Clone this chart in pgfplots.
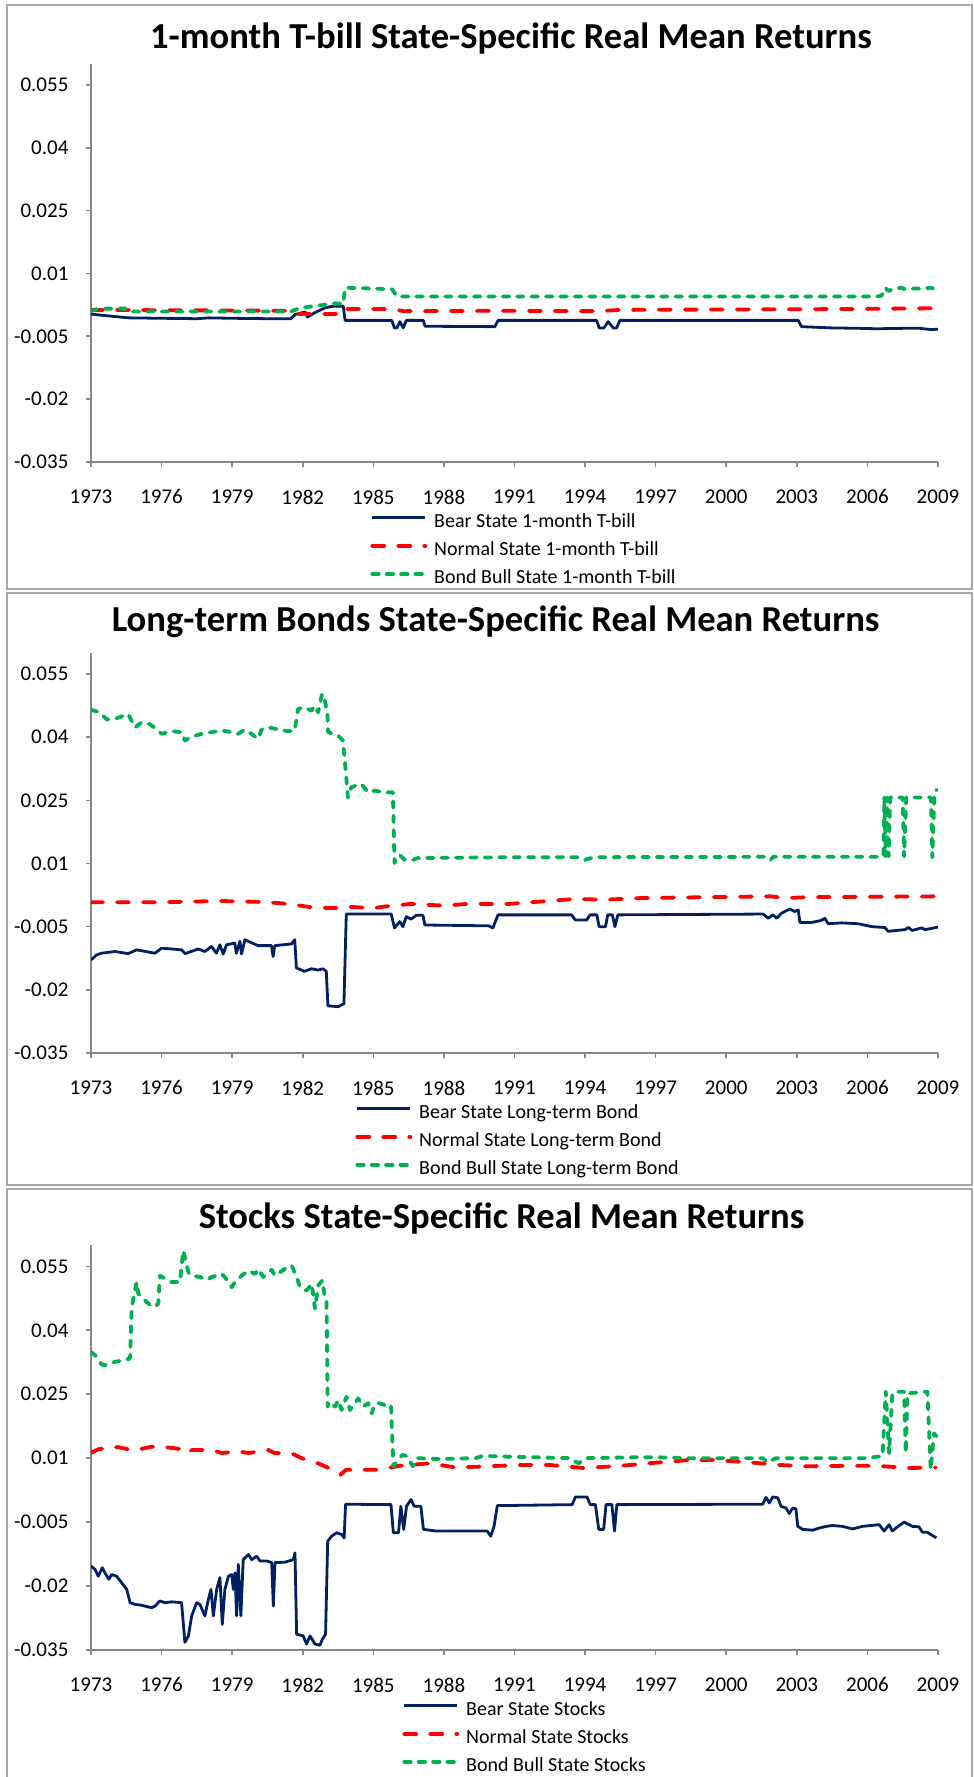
\documentclass[border=0pt]{standalone}
\usepackage{fontspec}
\setmainfont{Carlito}
\usepackage{pgfplots}
\pgfplotsset{compat=1.18}

\definecolor{bearblue}{RGB}{0,32,96}
\definecolor{normred}{RGB}{255,0,0}
\definecolor{bullgreen}{RGB}{0,176,80}
\definecolor{axisgray}{RGB}{134,134,134}
\definecolor{framegray}{RGB}{165,165,165}

\pgfplotsset{
  panel/.style={
    scale only axis, width=423.5pt,
    xmin=1973, xmax=2009, ymin=-0.035, ymax=0.06,
    axis lines*=left,
    axis line style={axisgray, line width=0.8pt},
    scaled y ticks=false, scaled x ticks=false,
    xtick={1973,1976,...,2009},
    xticklabels={1973,1976,1979,1982,1985,1988,1991,1994,1997,2000,2003,2006,2009},
    ytick={-0.035,-0.02,-0.005,0.01,0.025,0.04,0.055},
    yticklabels={-0.035,-0.02,-0.005,0.01,0.025,0.04,0.055},
    tick align=outside, major tick length=2.5pt,
    tick style={axisgray, line width=0.8pt},
    ticklabel style={font=\fontsize{10.5}{12}\selectfont},
    xticklabel style={anchor=north, inner sep=0pt, yshift=-11.2pt},
    yticklabel style={anchor=east, inner sep=0pt, xshift=-8.6pt},
    legend style={draw=none, fill=none, anchor=north west, yshift=-25.5pt,
      inner sep=0pt, font=\fontsize{10}{12}\selectfont,
      nodes={inner sep=0pt, text height=7pt, text depth=2.5pt},
      row sep=4.5pt,
      /tikz/every odd column/.append style={column sep=3.5pt}},
    legend cell align=left,
    legend image code/.code={\draw[#1] (0pt,2.5pt) -- (26.5pt,2.5pt);},
  },
  bear/.style={bearblue, line width=1.4pt, line join=round},
  normal/.style={normred, line width=1.9pt, line cap=round, line join=round, dash pattern=on 6pt off 7pt},
  bull/.style={bullgreen, line width=1.9pt, line cap=round, line join=round, dash pattern=on 3.2pt off 4pt},
}

\begin{document}
\begin{tikzpicture}
\useasboundingbox (0pt,0pt) rectangle (487pt,888.5pt);
\draw[framegray, line width=1pt] (3.5pt,886pt) rectangle (486pt,594pt);
\draw[framegray, line width=1pt] (3.5pt,592pt) rectangle (486pt,296pt);
\draw[framegray, line width=1pt] (3.5pt,294pt) rectangle (486pt,-2pt);

\node[font=\fontsize{18.3}{21}\selectfont\bfseries] at (255.5pt,869pt) {1-month T-bill State-Specific Real Mean Returns};
\node[font=\fontsize{18.3}{21}\selectfont\bfseries] at (247.8pt,577.5pt) {Long-term Bonds State-Specific Real Mean Returns};
\node[font=\fontsize{18.3}{21}\selectfont\bfseries] at (250.8pt,279pt) {Stocks State-Specific Real Mean Returns};

% ---------- 1-month T-bill ----------
\begin{axis}[panel, at={(45.5pt,657.5pt)}, anchor=south west, height=199pt,
  legend style={at={(0.3294,0)}}]
\addplot[bear] table {
1973.00 0.0003
1973.50 0.0000
1974.60 -0.0006
1976.00 -0.0007
1977.50 -0.0008
1978.00 -0.0006
1979.00 -0.0007
1980.50 -0.0008
1981.50 -0.0008
1981.67 0.0002
1982.10 0.0008
1982.20 -0.0004
1982.50 0.0006
1982.95 0.0018
1983.30 0.0022
1983.72 0.0022
1983.80 -0.0012
1985.78 -0.0012
1985.90 -0.0030
1986.00 -0.0030
1986.13 -0.0015
1986.27 -0.0030
1986.40 -0.0012
1987.12 -0.0012
1987.20 -0.0026
1990.17 -0.0027
1990.30 -0.0012
1994.49 -0.0012
1994.60 -0.0030
1994.80 -0.0030
1994.98 -0.0015
1995.20 -0.0030
1995.34 -0.0030
1995.48 -0.0012
2003.06 -0.0012
2003.20 -0.0027
2004.50 -0.0030
2005.68 -0.0031
2006.40 -0.0032
2007.50 -0.0031
2008.23 -0.0031
2008.70 -0.0034
2009.00 -0.0033
};
\addlegendentry{Bear State 1-month T-bill}
\addplot[normal] table {
1973.00 0.0013
1981.50 0.0011
1981.80 0.0003
1983.50 0.0003
1983.75 0.0003
1983.85 0.0015
1985.80 0.0015
1986.30 0.0010
1990.00 0.0011
1994.50 0.0010
1995.50 0.0013
2000.00 0.0014
2005.00 0.0015
2009.00 0.0017
};
\addlegendentry{Normal State 1-month T-bill}
\addplot[bull] table {
1973.00 0.0010
1973.30 0.0016
1974.50 0.0016
1974.70 0.0009
1981.50 0.0009
1981.80 0.0016
1982.20 0.0020
1982.90 0.0025
1983.30 0.0028
1983.72 0.0028
1983.80 0.0066
1985.00 0.0064
1985.80 0.0062
1986.00 0.0045
2006.40 0.0045
2006.60 0.0047
2006.75 0.0066
2006.90 0.0058
2007.10 0.0064
2007.45 0.0066
2007.60 0.0062
2007.80 0.0064
2008.20 0.0064
2008.73 0.0066
2008.85 0.0060
2009.00 0.0052
};
\addlegendentry{Bond Bull State 1-month T-bill}
\end{axis}

% ---------- Long-term Bonds ----------
\begin{axis}[panel, at={(45.5pt,362pt)}, anchor=south west, height=200pt,
  legend style={at={(0.3117,0)}}]
\addplot[bear] table {
1973.00 -0.0129
1973.24 -0.0117
1973.45 -0.0113
1974.02 -0.0109
1974.58 -0.0114
1974.94 -0.0105
1975.72 -0.0113
1976.00 -0.0101
1976.85 -0.0105
1977.00 -0.0114
1977.56 -0.0103
1977.84 -0.0109
1978.12 -0.0097
1978.33 -0.0113
1978.48 -0.0093
1978.62 -0.0115
1978.76 -0.0093
1979.11 -0.0089
1979.18 -0.0113
1979.33 -0.0085
1979.40 -0.0115
1979.54 -0.0081
1980.10 -0.0095
1980.67 -0.0095
1980.74 -0.0121
1980.81 -0.0095
1981.52 -0.0091
1981.66 -0.0081
1981.73 -0.0148
1982.07 -0.0156
1982.37 -0.0150
1982.65 -0.0153
1982.86 -0.0150
1983.00 -0.0156
1983.07 -0.0238
1983.50 -0.0240
1983.75 -0.0233
1983.85 -0.0020
1985.76 -0.0020
1985.90 -0.0053
1986.12 -0.0038
1986.26 -0.0050
1986.40 -0.0026
1986.61 -0.0032
1986.82 -0.0023
1987.11 -0.0023
1987.19 -0.0046
1989.90 -0.0048
1990.08 -0.0053
1990.30 -0.0022
1993.43 -0.0022
1993.58 -0.0034
1994.07 -0.0034
1994.21 -0.0022
1994.50 -0.0022
1994.60 -0.0050
1994.87 -0.0050
1994.96 -0.0022
1995.16 -0.0022
1995.27 -0.0050
1995.39 -0.0022
2001.57 -0.0020
2001.78 -0.0030
2001.99 -0.0022
2002.14 -0.0030
2002.35 -0.0018
2002.70 -0.0008
2002.91 -0.0014
2003.06 -0.0010
2003.13 -0.0040
2003.63 -0.0040
2004.05 -0.0035
2004.19 -0.0030
2004.33 -0.0043
2004.90 -0.0041
2005.60 -0.0043
2006.20 -0.0050
2006.74 -0.0052
2006.88 -0.0061
2007.60 -0.0057
2007.75 -0.0052
2007.90 -0.0059
2008.30 -0.0053
2008.45 -0.0057
2009.00 -0.0051
};
\addlegendentry{Bear State Long-term Bond}
\addplot[normal] table {
1973.00 0.0008
1976.00 0.0008
1978.50 0.0011
1980.10 0.0009
1981.00 0.0006
1981.50 0.0003
1982.50 -0.0005
1983.60 -0.0006
1984.00 -0.0003
1985.00 -0.0006
1985.50 -0.0002
1986.60 0.0004
1988.00 0.0000
1989.00 0.0004
1990.75 0.0004
1992.20 0.0010
1993.60 0.0016
1994.80 0.0014
1996.40 0.0018
1999.20 0.0020
2001.90 0.0022
2002.50 0.0018
2003.50 0.0020
2006.00 0.0021
2009.00 0.0022
};
\addlegendentry{Normal State Long-term Bond}
\addplot[bull] table {
1973.00 0.0465
1973.37 0.0459
1973.67 0.0442
1974.09 0.0445
1974.58 0.0455
1974.87 0.0423
1975.15 0.0435
1975.50 0.0431
1975.79 0.0419
1976.00 0.0408
1976.43 0.0414
1976.85 0.0412
1976.99 0.0392
1977.27 0.0401
1977.70 0.0408
1978.12 0.0412
1978.55 0.0416
1978.97 0.0412
1979.25 0.0408
1979.54 0.0418
1979.82 0.0408
1980.10 0.0396
1980.25 0.0418
1980.53 0.0423
1980.95 0.0419
1981.38 0.0414
1981.66 0.0416
1981.80 0.0467
1982.08 0.0471
1982.37 0.0463
1982.51 0.0475
1982.65 0.0459
1982.82 0.0503
1982.94 0.0487
1983.05 0.0455
1983.08 0.0412
1983.50 0.0404
1983.71 0.0392
1983.86 0.0297
1983.92 0.0257
1984.06 0.0281
1984.49 0.0289
1984.77 0.0269
1985.06 0.0273
1985.48 0.0269
1985.83 0.0269
1985.90 0.0101
1986.12 0.0120
1986.33 0.0109
1986.69 0.0109
1986.90 0.0113
1991.00 0.0115
1993.70 0.0115
1994.00 0.0109
1994.40 0.0115
2001.80 0.0116
2001.90 0.0110
2002.00 0.0116
2006.55 0.0116
2006.68 0.0117
2006.72 0.0257
2006.78 0.0117
2006.85 0.0257
2006.90 0.0117
2006.97 0.0257
2007.50 0.0257
2007.56 0.0117
2007.65 0.0257
2008.70 0.0257
2008.76 0.0115
2008.85 0.0270
2008.95 0.0275
};
\addlegendentry{Bond Bull State Long-term Bond}
\end{axis}

% ---------- Stocks ----------
\begin{axis}[panel, at={(45.5pt,63.5pt)}, anchor=south west, height=202.5pt,
  legend style={at={(0.3672,0)}}]
\addplot[bear] table {
1973.00 -0.0153
1973.17 -0.0161
1973.31 -0.0177
1973.48 -0.0157
1973.59 -0.0169
1973.76 -0.0184
1973.88 -0.0173
1974.09 -0.0177
1974.30 -0.0192
1974.52 -0.0208
1974.66 -0.0239
1974.87 -0.0243
1975.15 -0.0245
1975.58 -0.0251
1975.72 -0.0247
1975.93 -0.0235
1976.14 -0.0239
1976.43 -0.0237
1976.85 -0.0239
1976.99 -0.0332
1977.14 -0.0317
1977.28 -0.0270
1977.49 -0.0239
1977.63 -0.0243
1977.84 -0.0270
1977.99 -0.0231
1978.10 -0.0208
1978.20 -0.0270
1978.34 -0.0208
1978.48 -0.0180
1978.58 -0.0290
1978.69 -0.0208
1978.84 -0.0177
1978.98 -0.0173
1979.05 -0.0208
1979.12 -0.0169
1979.19 -0.0270
1979.26 -0.0149
1979.37 -0.0270
1979.47 -0.0138
1979.69 -0.0126
1979.83 -0.0138
1980.04 -0.0130
1980.18 -0.0141
1980.46 -0.0141
1980.68 -0.0145
1980.75 -0.0247
1980.82 -0.0145
1981.24 -0.0144
1981.60 -0.0138
1981.67 -0.0122
1981.74 -0.0313
1982.02 -0.0317
1982.16 -0.0336
1982.31 -0.0317
1982.52 -0.0336
1982.73 -0.0339
1982.83 -0.0325
1982.97 -0.0313
1983.06 -0.0095
1983.23 -0.0083
1983.44 -0.0075
1983.65 -0.0079
1983.76 -0.0087
1983.82 -0.0008
1985.75 -0.0009
1985.85 -0.0075
1986.07 -0.0075
1986.17 -0.0013
1986.29 -0.0067
1986.41 -0.0013
1986.60 0.0003
1986.74 -0.0013
1987.02 -0.0013
1987.13 -0.0067
1987.66 -0.0071
1989.07 -0.0071
1989.84 -0.0071
1989.99 -0.0083
1990.13 -0.0060
1990.27 -0.0011
1990.76 -0.0011
1993.45 -0.0009
1993.59 0.0009
1994.08 0.0009
1994.22 -0.0009
1994.44 -0.0009
1994.58 -0.0067
1994.79 -0.0067
1994.89 -0.0009
1995.14 -0.0009
1995.25 -0.0071
1995.35 -0.0009
2001.55 -0.0008
2001.69 0.0008
2001.83 -0.0005
2001.98 0.0009
2002.19 0.0007
2002.33 -0.0013
2002.54 -0.0017
2002.68 -0.0030
2002.82 -0.0017
2002.96 -0.0019
2003.04 -0.0060
2003.25 -0.0067
2003.67 -0.0069
2003.95 -0.0064
2004.24 -0.0060
2004.52 -0.0058
2004.94 -0.0060
2005.37 -0.0066
2005.79 -0.0060
2006.50 -0.0056
2006.71 -0.0071
2006.92 -0.0056
2007.06 -0.0071
2007.28 -0.0061
2007.56 -0.0050
2007.91 -0.0060
2008.19 -0.0061
2008.34 -0.0074
2008.55 -0.0074
2008.69 -0.0079
2008.93 -0.0087
};
\addlegendentry{Bear State Stocks}
\addplot[normal] table {
1973.00 0.0112
1973.31 0.0121
1974.15 0.0126
1974.80 0.0118
1975.60 0.0127
1976.15 0.0126
1976.85 0.0121
1977.00 0.0112
1977.30 0.0119
1978.15 0.0119
1978.55 0.0112
1979.25 0.0116
1979.70 0.0112
1980.55 0.0119
1980.80 0.0112
1981.50 0.0112
1981.95 0.0100
1982.65 0.0088
1983.10 0.0077
1983.60 0.0061
1983.85 0.0073
1984.80 0.0073
1985.25 0.0073
1986.10 0.0082
1987.40 0.0088
1988.50 0.0078
1989.90 0.0081
1991.30 0.0084
1992.50 0.0084
1993.90 0.0077
1995.30 0.0081
1996.70 0.0088
1998.30 0.0095
1999.40 0.0096
2001.00 0.0090
2002.30 0.0084
2003.40 0.0081
2004.95 0.0082
2006.35 0.0082
2007.80 0.0077
2008.90 0.0078
};
\addlegendentry{Normal State Stocks}
\addplot[bull] table {
1973.00 0.0349
1973.24 0.0338
1973.45 0.0320
1973.59 0.0318
1974.02 0.0326
1974.44 0.0330
1974.66 0.0334
1974.73 0.0454
1974.94 0.0513
1975.01 0.0486
1975.22 0.0474
1975.37 0.0466
1975.65 0.0454
1975.86 0.0462
1975.93 0.0528
1976.14 0.0521
1976.43 0.0513
1976.78 0.0513
1976.92 0.0587
1976.99 0.0571
1977.14 0.0536
1977.28 0.0528
1977.63 0.0525
1977.92 0.0518
1978.13 0.0525
1978.55 0.0532
1978.69 0.0525
1978.98 0.0501
1979.12 0.0513
1979.40 0.0528
1979.69 0.0540
1979.97 0.0532
1980.11 0.0544
1980.32 0.0525
1980.68 0.0542
1980.82 0.0528
1981.24 0.0544
1981.53 0.0552
1981.74 0.0525
1981.88 0.0501
1982.16 0.0493
1982.38 0.0509
1982.52 0.0451
1982.66 0.0505
1982.83 0.0517
1982.94 0.0478
1983.01 0.0470
1983.06 0.0221
1983.16 0.0232
1983.37 0.0221
1983.51 0.0236
1983.65 0.0213
1983.86 0.0244
1984.01 0.0213
1984.36 0.0240
1984.57 0.0221
1984.78 0.0229
1984.93 0.0205
1985.04 0.0225
1985.25 0.0229
1985.47 0.0225
1985.75 0.0225
1985.85 0.0081
1986.24 0.0108
1986.45 0.0104
1986.67 0.0081
1986.88 0.0100
1987.66 0.0098
1989.35 0.0100
1989.63 0.0105
1991.89 0.0102
1993.31 0.0100
1993.73 0.0088
1994.01 0.0100
1996.13 0.0102
1997.12 0.0102
1998.30 0.0100
2001.55 0.0100
2001.76 0.0090
2002.12 0.0100
2005.93 0.0100
2006.64 0.0105
2006.78 0.0256
2006.92 0.0112
2007.06 0.0252
2007.35 0.0256
2007.56 0.0256
2007.63 0.0112
2007.70 0.0252
2008.55 0.0256
2008.69 0.0073
2008.83 0.0158
2008.93 0.0151
};
\addlegendentry{Bond Bull State Stocks}
\end{axis}
\end{tikzpicture}
\end{document}
